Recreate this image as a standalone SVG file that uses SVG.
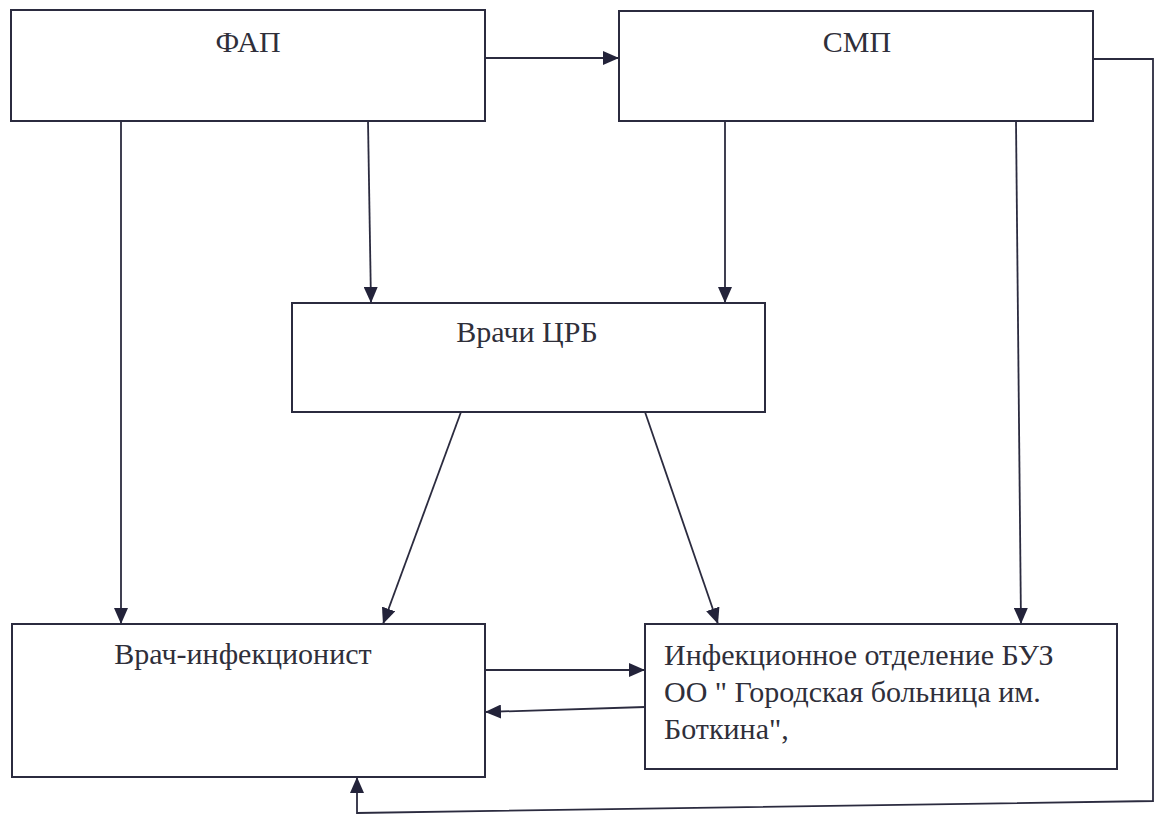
<svg xmlns="http://www.w3.org/2000/svg" width="1154" height="815" viewBox="0 0 1154 815">
<style>
.box{fill:#fff;stroke:#2b2b3f;stroke-width:2}
.t{font-family:'Liberation Serif','DejaVu Serif','Times New Roman',serif;font-size:30px;fill:#2f2f3a}
.c{fill:none;stroke:#2b2b3f;stroke-width:1.8}
</style>
<defs>
<marker id="a" viewBox="0 0 16 14" refX="16" refY="7" markerWidth="16" markerHeight="14" markerUnits="userSpaceOnUse" orient="auto">
<path d="M0,0 L16,7 L0,14 Z" fill="#23233a"/>
</marker>
</defs>
<rect width="1154" height="815" fill="#fff"/>
<g id="connectors">
<line class="c" x1="485" y1="58" x2="619" y2="58" marker-end="url(#a)"/>
<line class="c" x1="121" y1="121" x2="121" y2="624" marker-end="url(#a)"/>
<line class="c" x1="368" y1="121" x2="371" y2="303" marker-end="url(#a)"/>
<line class="c" x1="725" y1="121" x2="725" y2="303" marker-end="url(#a)"/>
<line class="c" x1="1016" y1="121" x2="1021" y2="624" marker-end="url(#a)"/>
<line class="c" x1="461" y1="412" x2="383" y2="624" marker-end="url(#a)"/>
<line class="c" x1="645" y1="412" x2="718" y2="624" marker-end="url(#a)"/>
<line class="c" x1="485" y1="670" x2="645" y2="670" marker-end="url(#a)"/>
<line class="c" x1="645" y1="707" x2="485" y2="712" marker-end="url(#a)"/>
<polyline class="c" points="1093,59 1153,59 1153,801 357,813 357,777" marker-end="url(#a)"/>
</g>
<g id="fap">
<rect class="box" x="11" y="10" width="474" height="111"/>
<text class="t" x="248" y="52" text-anchor="middle">ФАП</text>
</g>
<g id="smp">
<rect class="box" x="619" y="11" width="474" height="110"/>
<text class="t" x="857" y="52" text-anchor="middle">СМП</text>
</g>
<g id="crb">
<rect class="box" x="292" y="303" width="473" height="109"/>
<text class="t" x="527" y="342" text-anchor="middle">Врачи ЦРБ</text>
</g>
<g id="infekcionist">
<rect class="box" x="12" y="624" width="473" height="153"/>
<text class="t" x="243" y="664" text-anchor="middle">Врач-инфекционист</text>
</g>
<g id="otdelenie">
<rect class="box" x="645" y="624" width="472" height="145"/>
<text class="t" x="664" y="665">Инфекционное отделение БУЗ</text>
<text class="t" x="664" y="702">ОО " Городская больница им.</text>
<text class="t" x="664" y="739">Боткина",</text>
</g>
</svg>
